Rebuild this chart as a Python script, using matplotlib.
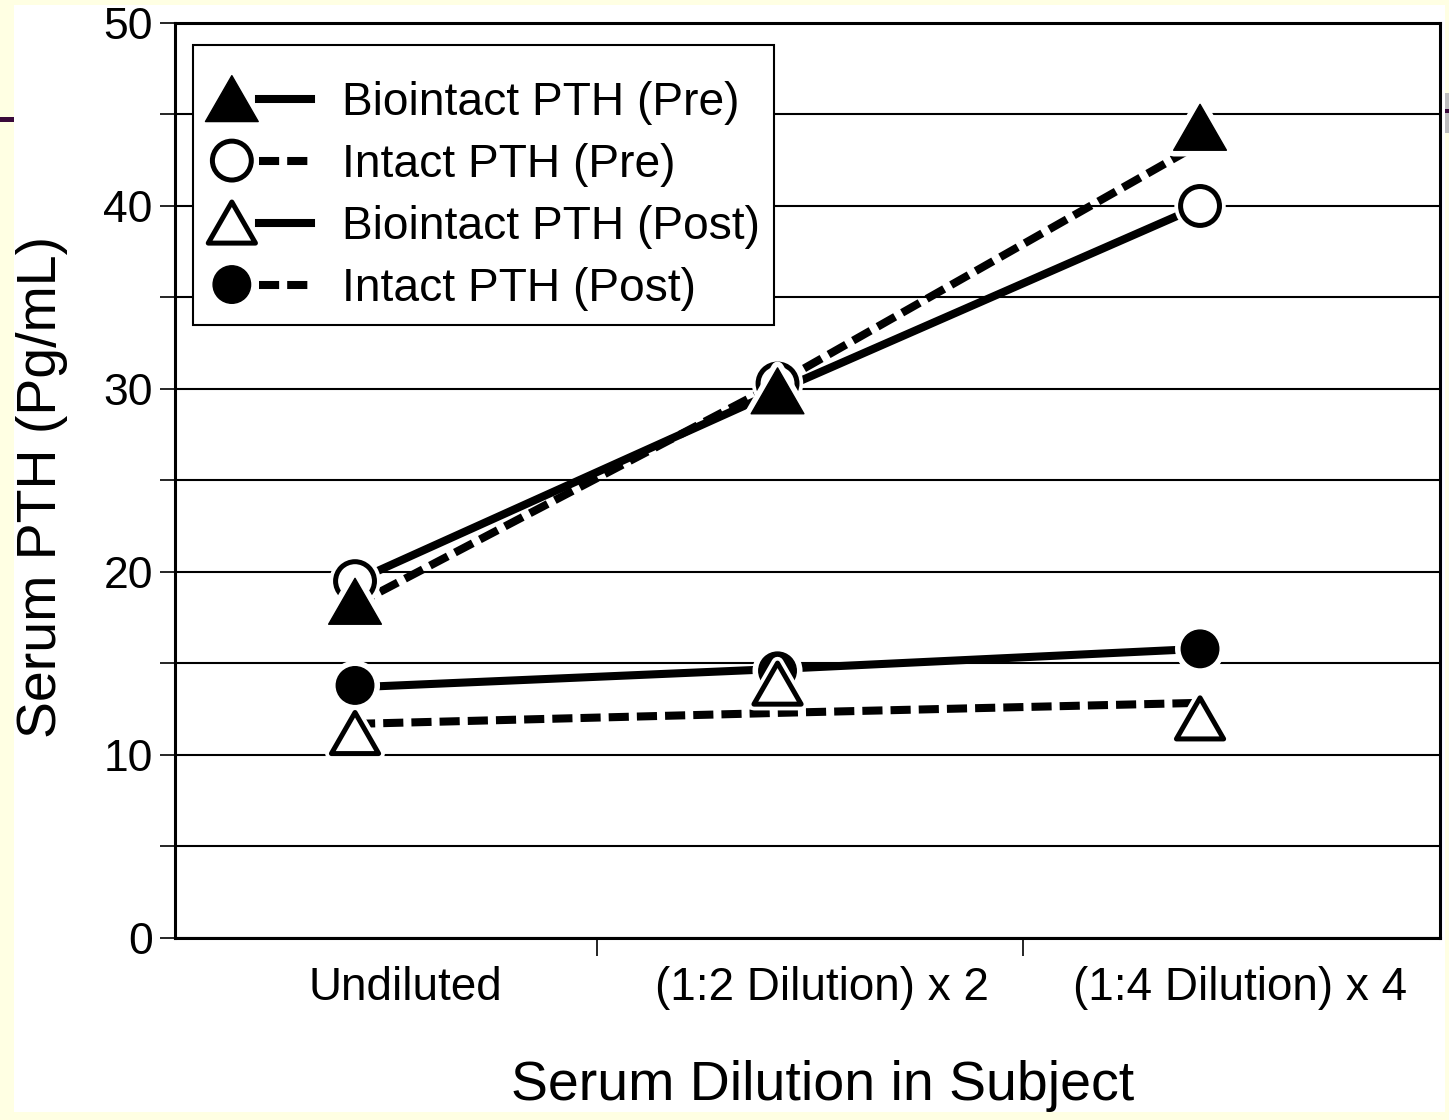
import numpy as np
import matplotlib
matplotlib.use("Agg")
import matplotlib.pyplot as plt
import matplotlib.patheffects as pe
from matplotlib.lines import Line2D
from matplotlib.legend_handler import HandlerBase
from matplotlib.patches import Rectangle
from matplotlib.path import Path

plt.rcParams["font.family"] = ["Liberation Sans", "DejaVu Sans"]

categories = ["Undiluted", "(1:2 Dilution) x 2", "(1:4 Dilution) x 4"]

# marker values (pg/mL)
biointact_pre = [18.4, 29.9, 44.3]
intact_pre = [19.5, 30.3, 40.0]
biointact_post = [11.2, 13.9, 12.0]
intact_post = [13.8, 14.6, 15.8]

# connecting lines as drawn in the source figure
solid_upper = [19.5, 29.9, 40.0]
dashed_upper = [18.2, 30.3, 43.4]
solid_lower = [13.7, 14.7, 15.8]
dashed_lower = [11.7, 12.3, 12.85]

labels = ["Biointact PTH (Pre)", "Intact PTH (Pre)", "Biointact PTH (Post)", "Intact PTH (Post)"]

LW = 5.8
DASH = (2.5, 1.0)
halo = [pe.Stroke(linewidth=9, foreground="white"), pe.Normal()]
TRI = Path([(0, 0.87), (-1, -0.87), (1, -0.87), (0, 0.87)], closed=True)


class MarkerLeftHandler(HandlerBase):
    # marker on the left, line segment to its right
    def create_artists(self, legend, orig_handle, xdescent, ydescent, width, height, fontsize, trans):
        y = (height - ydescent) / 2
        line = Line2D([-xdescent + 0.5 * width, -xdescent + width], [y, y])
        line.update_from(orig_handle)
        line.set_marker("")
        line.set_transform(trans)
        mark = Line2D([-xdescent + 0.24 * width], [y])
        mark.update_from(orig_handle)
        mark.set_linestyle("none")
        mark.set_path_effects(halo)
        mark.set_transform(trans)
        return [line, mark]


fig = plt.figure(figsize=(14.49, 11.2), dpi=100, facecolor="#FFFFE3")
# slide background bits around the pasted chart
fig.patches.append(Rectangle((0.0097, 0.0071), 0.9875, 0.9884, transform=fig.transFigure,
                             facecolor="white", edgecolor="none", zorder=-10))
fig.patches.append(Rectangle((0.0, 0.8915), 0.0097, 0.004, transform=fig.transFigure,
                             facecolor="#3A0A3A", edgecolor="none", zorder=-9))
fig.patches.append(Rectangle((0.9972, 0.881), 0.0028, 0.036, transform=fig.transFigure,
                             facecolor="#BDBDBD", edgecolor="none", zorder=-9))
fig.patches.append(Rectangle((0.9972, 0.8995), 0.0028, 0.0035, transform=fig.transFigure,
                             facecolor="#3A0A3A", edgecolor="none", zorder=-8))

ax = fig.add_axes([0.1208, 0.1625, 0.873, 0.8170])
x = np.arange(len(categories))

ax.plot(x, solid_upper, color="black", lw=LW, solid_capstyle="butt", zorder=3)
ax.plot(x, dashed_upper, color="black", lw=LW, dashes=DASH, dash_capstyle="butt", zorder=3)
ax.plot(x, solid_lower, color="black", lw=LW, solid_capstyle="butt", zorder=3)
ax.plot(x, dashed_lower, color="black", lw=LW, dashes=DASH, dash_capstyle="butt", zorder=3)

ax.plot(x, intact_pre, ls="none", marker="o", ms=28, mfc="white", mec="black", mew=3.6,
        path_effects=halo, zorder=5)
ax.plot(x, biointact_pre, ls="none", marker=TRI, ms=38, mfc="black", mec="black", mew=1,
        path_effects=halo, zorder=6)
ax.plot(x, intact_post, ls="none", marker="o", ms=27, mfc="black", mec="black", mew=1,
        path_effects=halo, zorder=4)
ax.plot(x, biointact_post, ls="none", marker=TRI, ms=34, mfc="white", mec="black", mew=3.6,
        path_effects=halo, zorder=5)

ax.set_xlim(-0.426, 2.568)
ax.set_ylim(0, 50)
ax.set_yticks(np.arange(0, 51, 10))
ax.set_yticks(np.arange(5, 50, 10), minor=True)
ax.yaxis.grid(True, which="both", color="black", lw=1.5, zorder=1)
ax.set_axisbelow(True)
ax.tick_params(axis="y", which="both", length=11, width=1.2, labelsize=32, pad=5)

ax.set_xticks([0.12, 1.105, 2.095])
ax.set_xticklabels(categories)
ax.set_xticks([0.573, 1.581], minor=True)
ax.tick_params(axis="x", which="major", length=0, labelsize=33, pad=20)
ax.tick_params(axis="x", which="minor", length=13, width=1.2)

for s in ax.spines.values():
    s.set_linewidth(2.2)
    s.set_color("black")

ax.set_xlabel("Serum Dilution in Subject", fontsize=40)
ax.xaxis.set_label_coords(0.512, -0.133)
ax.set_ylabel("Serum PTH (Pg/mL)", fontsize=40)
ax.yaxis.set_label_coords(-0.085, 0.493)

handles = [
    Line2D([], [], color="black", lw=LW, marker=TRI, ms=38, mfc="black", mec="black", mew=1),
    Line2D([], [], color="black", lw=LW, dashes=DASH, marker="o", ms=28, mfc="white", mec="black", mew=3.6),
    Line2D([], [], color="black", lw=LW, marker=TRI, ms=34, mfc="white", mec="black", mew=3.6),
    Line2D([], [], color="black", lw=LW, dashes=DASH, marker="o", ms=27, mfc="black", mec="black", mew=1),
]
# a tiny blank title gives the extra room above the first row
leg = ax.legend(handles, labels, loc="upper left", bbox_to_anchor=(0.0142, 0.976), borderaxespad=0,
                fontsize=33.2, handlelength=2.26, handletextpad=0.67, labelspacing=0.39,
                borderpad=0.3, fancybox=False, framealpha=1, edgecolor="black",
                title=" ", title_fontsize=3,
                handler_map={Line2D: MarkerLeftHandler()})
leg.get_frame().set_linewidth(1.5)
leg.set_zorder(10)

fig.savefig("out.png", dpi=100, facecolor=fig.get_facecolor())
